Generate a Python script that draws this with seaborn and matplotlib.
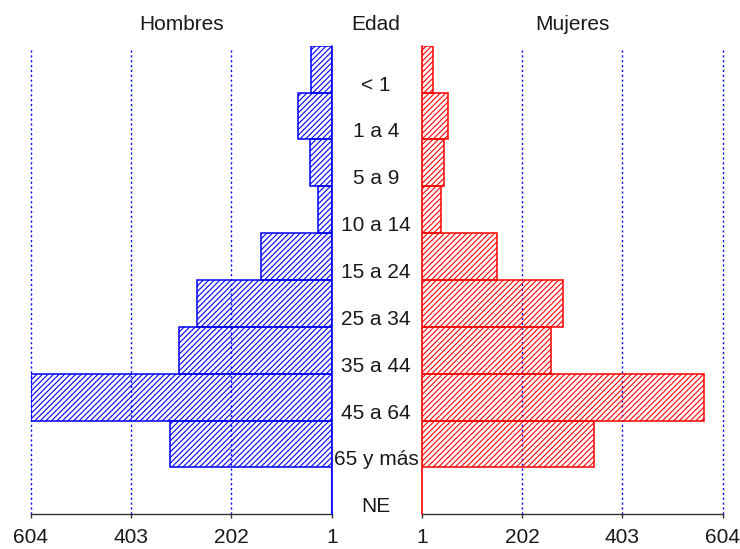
import matplotlib
matplotlib.use('Agg')
import matplotlib.pyplot as plt
from matplotlib.transforms import blended_transform_factory
import seaborn as sns
import pandas as pd

sns.set_style('white')
plt.rcParams['font.family'] = ['Liberation Sans', 'DejaVu Sans']
plt.rcParams['font.size'] = 15
plt.rcParams['hatch.linewidth'] = 0.8

# data
edades = ['< 1', '1 a 4', '5 a 9', '10 a 14', '15 a 24', '25 a 34',
          '35 a 44', '45 a 64', '65 y más', 'NE']
hombres = [42, 68, 44, 29, 143, 271, 307, 604, 326, 0]
mujeres = [24, 53, 45, 40, 151, 285, 261, 566, 347, 0]
ticks = [1, 202, 403, 604]

df = pd.DataFrame({'edad': edades, 'Hombres': hombres, 'Mujeres': mujeres})

W, H = 740, 549
fig = plt.figure(figsize=(W / 100, H / 100), dpi=100)
ax_h = fig.add_axes([31 / W, 1 - 514.3 / H, 300.7 / W, 468.6 / H])
ax_m = fig.add_axes([421.7 / W, 1 - 514.3 / H, 301 / W, 468.6 / H])

text_col = '#1a1a1a'
for ax, col, color in [(ax_h, 'Hombres', 'blue'), (ax_m, 'Mujeres', 'red')]:
    sns.barplot(data=df, x=col, y='edad', order=edades, orient='h',
                width=1, color=color, saturation=1, ax=ax, zorder=2)
    for p in ax.patches:
        p.set_facecolor('none')
        p.set_edgecolor(color)
        p.set_hatch('//////')
        p.set_linewidth(1.1)
    # dotted grid
    ax.vlines(ticks[1:], -0.4, 9.5, colors='blue', linestyles=(0, (1.5, 2)),
              linewidth=1, zorder=1, clip_on=False)
    ax.axvline(1, color=color, lw=1.2, clip_on=False, zorder=3)
    ax.set_ylim(9.5, -0.5)
    ax.set_xticks(ticks)
    ax.set_xticklabels([str(t) for t in ticks])
    ax.set_xlabel('')
    ax.set_ylabel('')
    ax.tick_params(axis='y', left=False, labelleft=False)
    ax.tick_params(axis='x', bottom=True, direction='out', length=3, width=1,
                   color='#333333', pad=7, labelcolor=text_col)
    sns.despine(ax=ax, left=True)
    ax.spines['bottom'].set_color('#333333')
    ax.spines['bottom'].set_linewidth(1)
    ax.set_facecolor('none')
    fig.text((ax.get_position().x0 + ax.get_position().x1) / 2, 1 - 25 / H, col,
             ha='center', va='center', color=text_col)

ax_h.set_xlim(604, 1)
ax_m.set_xlim(1, 604)

trans = blended_transform_factory(fig.transFigure, ax_h.transData)
for i, lab in enumerate(edades):
    ax_h.text(376 / W, i + 0.34, lab, transform=trans, ha='center', va='center',
              color=text_col, clip_on=False)
fig.text(376 / W, 1 - 25 / H, 'Edad', ha='center', va='center', color=text_col)

fig.savefig('out.png', dpi=100)
